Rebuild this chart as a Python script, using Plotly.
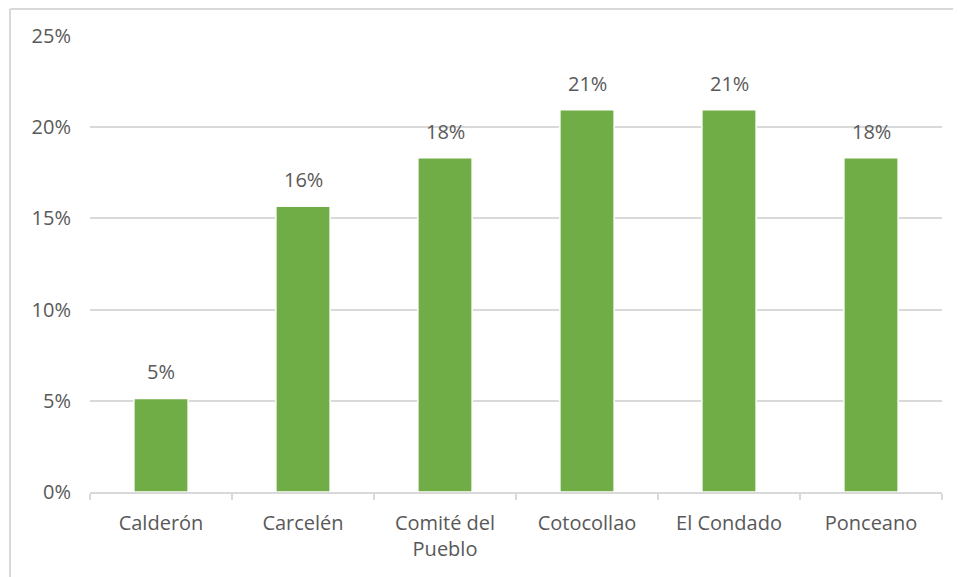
import plotly.graph_objects as go

categories = ["Calderón", "Carcelén", "Comité del<br>Pueblo", "Cotocollao", "El Condado", "Ponceano"]
values = [0.0513, 0.1567, 0.1833, 0.2095, 0.2095, 0.1833]
labels = ["5%", "16%", "18%", "21%", "21%", "18%"]
y_ticks = [0, 0.05, 0.10, 0.15, 0.20, 0.25]
y_tick_labels = ["0%", "5%", "10%", "15%", "20%", "25%"]

FONT = "Open Sans"
TXT = "#595959"
GRID = "#d9d9d9"

# page body adds an 8px offset, so the figure is sized to fit the window
W, H = 953, 569
ml, mr, mt, mb = 82, 19, 28, 85
pw, ph = W - ml - mr, H - mt - mb

fig = go.Figure()
fig.add_trace(go.Bar(
    x=categories, y=values,
    marker=dict(color="#70ad47", line=dict(color="white", width=1.5)),
    hoverinfo="skip",
))

for c, v, t in zip(categories, values, labels):
    fig.add_annotation(x=c, y=v, text=t, showarrow=False, yanchor="bottom",
                       yshift=11, font=dict(family=FONT, size=20, color=TXT))

def px_x(p):
    return (p - ml) / pw

def px_y(p):
    return (H - mb - p) / ph

# outer chart frame (left and top edges visible)
fig.add_shape(type="line", xref="paper", yref="paper",
              x0=px_x(2), x1=px_x(2), y0=px_y(1), y1=px_y(600),
              line=dict(color=GRID, width=2))
fig.add_shape(type="line", xref="paper", yref="paper",
              x0=px_x(2), x1=px_x(1000), y0=px_y(1), y1=px_y(1),
              line=dict(color=GRID, width=2))

fig.update_layout(
    width=W, height=H,
    margin=dict(l=ml, r=mr, t=mt, b=mb),
    paper_bgcolor="white", plot_bgcolor="white",
    bargap=0.618,
    showlegend=False,
    font=dict(family=FONT, size=20, color=TXT),
    xaxis=dict(
        showline=True, linecolor=GRID, linewidth=2,
        ticks="outside", tickson="boundaries", ticklen=6, tickcolor=GRID, tickwidth=2,
        tickfont=dict(family=FONT, size=20, color=TXT),
        ticklabelstandoff=12,
        showgrid=False,
    ),
    yaxis=dict(
        range=[0, 0.25], tickvals=y_ticks, ticktext=y_tick_labels,
        showgrid=True, gridcolor=GRID, gridwidth=2,
        zeroline=False, showline=False, ticks="",
        tickfont=dict(family=FONT, size=20, color=TXT),
        ticklabelstandoff=18,
    ),
)

fig.write_html("out.html")
